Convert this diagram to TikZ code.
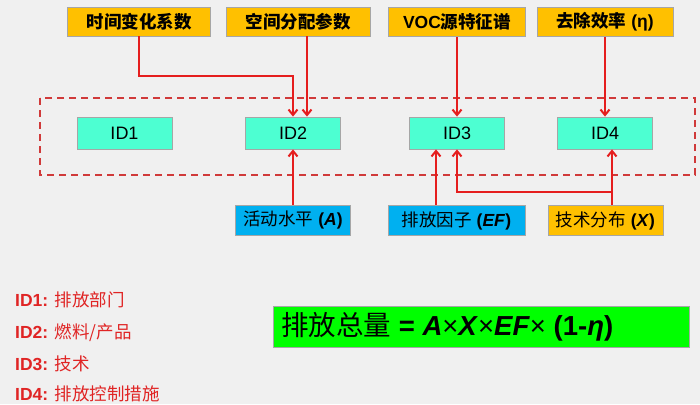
\documentclass[tikz,border=0pt]{standalone}
\usepackage{fontspec}
\setmainfont{Liberation Sans}
\newfontfamily\cjk{Noto Sans CJK SC}
\newcommand{\zh}[1]{{\cjk #1}}
\usetikzlibrary{arrows.meta}
\definecolor{bg}{HTML}{F0F0F0}
\definecolor{orangebox}{HTML}{FFC000}
\definecolor{tealbox}{HTML}{4DFFD2}
\definecolor{bluebox}{HTML}{00B0F0}
\definecolor{greenbox}{HTML}{00FF00}
\definecolor{edgegrey}{HTML}{A6A6A6}
\definecolor{arrred}{HTML}{E51E1E}
\definecolor{dashred}{HTML}{D03A3A}
\definecolor{legred}{HTML}{E02424}
\tikzset{
  box/.style={draw=edgegrey, line width=0.8pt, inner sep=0pt, text=black},
  topbox/.style={box, fill=orangebox, minimum height=29pt, font=\fontsize{17.5}{19}\selectfont\bfseries},
  idbox/.style={box, fill=tealbox, minimum width=95pt, minimum height=32pt, font=\fontsize{18}{20}\selectfont},
  botbox/.style={box, minimum height=30pt, font=\fontsize{17.5}{19}\selectfont},
  arr/.style={draw=arrred, line width=2pt, -{Straight Barb[length=5.5pt,width=9pt]}},
  legend/.style={anchor=base west, inner sep=0pt, text=legred, font=\fontsize{17.5}{19}\selectfont},
}
\begin{document}
\begin{tikzpicture}[x=1pt,y=-1pt]
\fill[bg] (0,0) rectangle (700,404);
\useasboundingbox (0,0) rectangle (700,404);
% top boxes
\node[topbox, minimum width=143pt] (t1) at (139,21.5) {\zh{时间变化系数}};
\node[topbox, minimum width=144pt] (t2) at (298,21.5) {\zh{空间分配参数}};
\node[topbox, minimum width=137pt] (t3) at (457,22) {VOC\zh{源特征谱}};
\node[topbox, minimum width=136pt] (t4) at (605,22) {\zh{去除效率} (η)};
% dashed frame
\draw[dashred, line width=2pt, dash pattern=on 7pt off 5pt] (40,98) rectangle (695,175);
% id boxes
\node[idbox] (id1) at (124.5,133) {ID1};
\node[idbox] (id2) at (293,133) {ID2};
\node[idbox] (id3) at (457,133) {ID3};
\node[idbox] (id4) at (605,133) {ID4};
% bottom boxes
\node[botbox, fill=bluebox, minimum width=115pt] (ba) at (293,220) {\zh{活动水平} \textbf{(\textit{A})}};
\node[botbox, fill=bluebox, minimum width=137pt] (bef) at (456.5,220.5) {\zh{排放因子} \textbf{(\textit{EF})}};
\node[botbox, fill=orangebox, minimum width=115pt] (bx) at (605.5,220.5) {\zh{技术分布} \textbf{(\textit{X})}};
% connectors
\coordinate (k1) at (293,76);
\draw[arr] (t1.south) |- (k1) -- (k1 |- id2.north);
\draw[arr] ([xshift=14pt]id2.north |- t2.south) -- ([xshift=14pt]id2.north);
\draw[arr] (t3.south) -- (t3.south |- id3.north);
\draw[arr] (t4.south) -- (t4.south |- id4.north);
\draw[arr] (ba.north) -- (ba.north |- id2.south);
\draw[arr] ([xshift=-21pt]id3.south |- bef.north) -- ([xshift=-21pt]id3.south);
\draw[arr] ([xshift=7pt]id4.south |- bx.north) -- ([xshift=7pt]id4.south);
\coordinate (j) at (612,192);
\draw[arr] (j) -| (id3.south);
% legend
\node[legend] (l1) at (15,306) {\textbf{ID1:} \zh{排放部门}};
\node[legend] (l2) at (15,338) {\textbf{ID2:} \zh{燃料/产品}};
\node[legend] (l3) at (15,370) {\textbf{ID3:} \zh{技术}};
\node[legend] (l4) at (15,400.5) {\textbf{ID4:} \zh{排放控制措施}};
% formula
\node[box, fill=greenbox, minimum width=416pt, minimum height=41pt] (f) at (481,326.5) {};
\node[anchor=west, inner sep=0pt, font=\fontsize{27.5}{30}\selectfont] (ft) at (281,326.5)
  {\zh{排放总量} \textbf{= \textit{A}}×\textbf{\textit{X}}×\textbf{\textit{EF}}× \textbf{(1-\textit{η})}};
\end{tikzpicture}
\end{document}
